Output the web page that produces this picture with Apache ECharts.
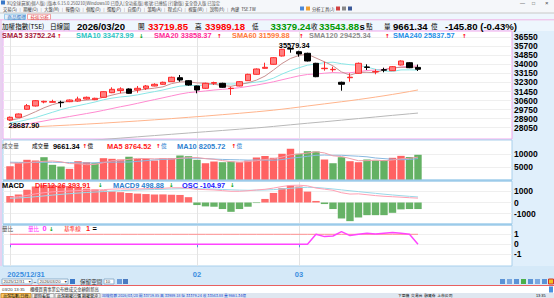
<!DOCTYPE html>
<html><head><meta charset="utf-8">
<script src="https://cdn.jsdelivr.net/npm/echarts@6.0.0/dist/echarts.min.js"></script>
<style>html,body{margin:0;padding:0;overflow:hidden;background:#fff}#c{width:554px;height:298px}</style>
</head><body><div id="c"></div><script>
const dates = ['2025/12/31','2026/01/02','2026/01/05','2026/01/06','2026/01/07','2026/01/08','2026/01/09','2026/01/12','2026/01/13','2026/01/14','2026/01/15','2026/01/16','2026/01/19','2026/01/20','2026/01/21','2026/01/22','2026/01/23','2026/01/26','2026/01/27','2026/01/28','2026/01/29','2026/01/30','2026/02/02','2026/02/03','2026/02/04','2026/02/05','2026/02/06','2026/02/09','2026/02/10','2026/02/11','2026/02/23','2026/02/24','2026/02/25','2026/02/26','2026/03/02','2026/03/03','2026/03/04','2026/03/05','2026/03/06','2026/03/09','2026/03/10','2026/03/11','2026/03/12','2026/03/13','2026/03/16','2026/03/17','2026/03/18','2026/03/19','2026/03/20'];
const open  = [28774,29028,29780,30090,30466,30440,30440,30494,30560,30748,30683,30908,31341,31540,31689,31595,31754,31971,32131,32375,32751,32469,31971,31754,32230,32225,31730,31971,32469,33071,33635,34011,34792,35500,35196,35046,34105,33600,33500,32319,32750,33165,33760,33300,33500,33410,33945,34162,33719.85];
const close = [29028,29338,30118,30588,30532,30500,30400,30654,30748,30908,30814,31435,31660,31700,31284,31754,31971,32131,32319,32789,32535,32065,31595,32225,32290,31848,31760,32375,33071,33569,33729,34632,35422,35440,34980,34322,32845,33640,33540,32131,32800,34105,33720,33340,33460,33786,34322,33689.68,33543.88];
const low   = [28687.90,29009,29733,30043,30344,30400,29968,30450,30494,30700,30640,30880,31300,31284,31240,31341,31595,31940,32100,32350,32375,32000,31284,31700,32065,31800,31125,31940,32440,33040,33600,33980,34750,35102,34726,34280,32800,33410,33315,31529,32375,33130,33475,33071,33259,33380,33900,33650,33379.24];
const high  = [29103,29385,30278,30654,30588,30680,30588,30700,30965,30980,30870,31480,31848,31848,31750,31971,32065,32225,32380,32850,33005,32530,32000,32280,32375,32280,31905,32430,33120,33620,34162,34680,35470,35579.34,35290,35100,34150,34256,33786,32380,33165,34180,34011,33541,33691,33850,34380,34220,33989.18];
const sma5   = [28750,28900,29200,29550,29921,30215,30428,30535,30567,30642,30705,30912,31113,31303,31379,31567,31674,31768,31892,32193,32349,32368,32261,32242,32142,32005,31944,32100,32269,32525,32901,33475,34085,34558,34841,34959,34602,34245,33865,33296,32991,33243,33259,33219,33485,33682,33726,33720,33752.24];
const sma10  = [28500,28620,28800,29000,29250,29500,29750,29950,30120,30287,30466,30676,30830,30941,31016,31136,31293,31441,31598,31786,31958,32021,32014,32067,32167,32177,32156,32180,32255,32333,32453,32709,33092,33414,33683,33930,34039,34165,34212,34068,33975,33923,33752,33542,33390,33337,33484,33489,33473.99];
const sma20  = [28150,28250,28380,28530,28680,28830,28960,29100,29240,29380,29520,29680,29850,30020,30170,30340,30520,30690,30860,31037,31212,31349,31422,31504,31592,31657,31725,31811,31927,32060,32206,32365,32553,32741,32925,33054,33098,33173,33234,33201,33214,33316,33422,33478,33537,33634,33762,33827,33858.37];
const sma60  = [28020,28060,28100,28140,28180,28220,28260,28300,28345,28390,28435,28480,28530,28580,28630,28680,28735,28790,28845,28905,28965,29025,29085,29145,29210,29275,29340,29405,29475,29545,29620,29700,29790,29885,29985,30090,30190,30290,30390,30490,30590,30700,30810,30930,31050,31180,31310,31450,31599.88];
const sma120 = [26290,26350,26410,26470,26530,26590,26650,26710,26770,26830,26890,26950,27010,27070,27130,27190,27250,27310,27370,27430,27490,27550,27610,27670,27730,27790,27850,27910,27970,28030,28095,28170,28245,28320,28395,28470,28540,28610,28685,28760,28835,28910,28985,29060,29135,29210,29280,29355,29425.34];
const volume = [5255,6570,7730,7460,8730,5800,5140,4250,7190,6800,6410,8350,8110,7840,8890,8110,8110,7460,8350,8350,9390,9120,7730,6410,7070,6800,7070,6800,7460,8620,9200,8500,10050,11980,10050,11050,10940,7840,6410,8730,7190,6800,7840,7460,7600,8500,9250,8810,9661.34];
const volUp  = [1,1,1,1,0,0,0,1,1,1,0,1,1,1,0,1,1,1,1,1,0,0,0,1,1,0,0,1,1,1,1,1,1,1,0,0,0,1,0,0,1,1,0,0,0,1,1,0,0];
const volMa5  = [6500,6400,6600,6900,7149,7258,6972,6276,6222,5836,5958,6600,7372,7502,7920,8260,8212,8082,8184,8076,8332,8534,8588,8200,7944,7426,7016,6830,7040,7350,7830,8116,8766,9670,9956,10326,10814,10372,9258,8994,8222,7394,7394,7604,7378,7640,8130,8324,8764.52];
const volMa10 = [6800,6750,6700,6700,6750,6800,6750,6650,6550,6493,6608,6786,6824,6862,6878,7109,7406,7727,7843,7998,8296,8373,8335,8192,8010,7879,7775,7709,7620,7647,7628,7566,7798,8355,8653,9078,9465,9569,9464,9475,9274,9104,8883,8431,8186,7931,7762,7859,8205.72];
const osc  = [590,730,1150,1440,1560,1570,1540,1480,1380,1250,1180,1090,1000,930,860,800,760,720,730,700,680,480,-230,-350,-380,-590,-840,-590,-380,-50,320,860,1290,1530,1440,980,140,-140,-590,-1440,-1680,-1350,-1140,-1140,-1140,-930,-620,-590,-590];
const dif  = [450,520,640,780,880,960,1000,1040,1070,1100,1110,1160,1200,1230,1210,1220,1240,1260,1280,1330,1330,1280,1190,1160,1130,1070,1010,1010,1060,1130,1190,1300,1440,1540,1560,1500,1300,1200,1100,880,760,780,700,620,560,520,480,430,393.91];
const macd = [380,410,456,521,593,666,733,794,849,899,941,985,1028,1068,1096,1121,1145,1168,1190,1218,1240,1248,1236,1221,1203,1176,1143,1116,1105,1110,1126,1161,1217,1282,1337,1370,1356,1290,1220,1140,1055,980,900,825,750,680,615,555,498.88];
const volRatio = [0,0,0,0,0,0,0,0,0,0,0,0,0,0,0,0,0,0,0,0,0,0,0,0,0,0,0,0,0,0,0,0,0,0,0,0,1.0,0.77,0.83,1.27,0.87,1.0,1.1,1.03,1.1,1.17,1.1,1.0,0];
const baseLine = dates.map(() => 1);
const priceTicks = [28050,28900,29750,30600,31450,32300,33150,34000,34850,35700,36550];
const volTicks = [5000,10000];
const macdTicks = [-1000,0,1000];
const ratioTicks = [-1,0,1];
const xTickIdx = [0,22,34];
const xTickText = ['2025/12/31','02','03'];

const F = '"Liberation Sans", Arial, sans-serif';
const CJK = '"Noto Sans CJK TC", sans-serif';
const XMIN = -0.82, XMAX = 59.06;

function xAx(g, labels) {
  return {type:'value', gridIndex:g, min:XMIN, max:XMAX,
    axisLine:{show:false},
    axisTick:{show:labels, customValues:xTickIdx, length:3, lineStyle:{color:'#5a9ad8'}},
    axisLabel:{show:labels, customValues:xTickIdx, margin:4, color:'#3a8de0', fontFamily:F, fontWeight:'bold', fontSize:7.5,
      formatter:(v)=>{const k=xTickIdx.indexOf(Math.round(v)); return k===0?'{f|'+xTickText[k]+'}':(xTickText[k]||'');},
      rich:{f:{padding:[0,0,0,32], color:'#3a8de0', fontFamily:F, fontWeight:'bold', fontSize:7.5}}},
    splitLine:{show:true, lineStyle:{color:'#e4e4e4', width:1}}};
}
function yAx(g, min, max, ticks) {
  return {type:'value', gridIndex:g, position:'right', min, max,
    axisLine:{show:false}, axisTick:{show:false, customValues:ticks},
    axisLabel:{customValues:ticks, margin:2, color:'#000', fontFamily:F, fontWeight:'bold', fontSize:8.5, align:'left',
      formatter:(v)=>String(v)},
    splitLine:{show:true, lineStyle:{color:'#efefef', width:1}}};
}
function ln(g, arr, color, w) {
  return {type:'line', xAxisIndex:g, yAxisIndex:g, data:arr.map((v,i)=>[i,v]), showSymbol:false, symbol:'none',
    lineStyle:{color, width:w||1}, silent:true, clip:true, z:2};
}

const G = [];
function rect(x,y,w,h,fill,stroke,z){G.push({type:'rect',silent:true,z:(z==null?-10:z),shape:{x,y,width:w,height:h},style:stroke?{fill:fill||'none',stroke,lineWidth:1}:{fill}});}
function hl(x1,y1,x2,y2,stroke,w,z){G.push({type:'line',silent:true,z:(z==null?50:z),shape:{x1,y1,x2,y2},style:{stroke,lineWidth:w||1}});}
function tx(x,y,text,fill,font,align){G.push({type:'text',silent:true,z:100,x,y,style:{text,fill,font,textAlign:align||'left',textVerticalAlign:'middle',align:align||'left',verticalAlign:'middle'}});}

// backgrounds
rect(0,0,554,13,'#f5f7fa');
rect(0,13,554,18,'#eef6fd');
rect(0,31,554,235,'#e0effb');
rect(0,266,554,19.5,'#d5e9f8');
rect(0,285.5,554,7.5,'#ffffff');
rect(0,293,554,5,'#dfe7f0');
hl(0,13,554,13,'#c8c8c8',1,-5);
hl(0,19.8,554,19.8,'#f0b4e4',1,-5);
hl(0,285.5,554,285.5,'#e86060',1,-5);
hl(1,20,1,266,'#f0b4e4',1,-5);
hl(3,180.5,512,180.5,'#9ccbea',2,60);
hl(3,224.5,512,224.5,'#9ccbea',2,60);

// window chrome
const tiny = '4.3px ' + CJK;
rect(1,0.5,4,4,'#3a78c8',null,-5);
tx(7,2.6,'XQ全球贏家(個人版) [版本 6.15.0.250210]Windows10 已登入[全功能版] 帳號:已連結 [行動版] 安全登入版 已設定','#555',tiny);
tx(520,2.6,'—','#444','5px '+F); tx(532,2.6,'□','#444','5px '+F); tx(545,2.6,'×','#444','6px '+F);
tx(3,8.6,'交易(S) │ 期權(O) │ 大盤(M) │ 報價(Q) │ 個股(D) │ 選股(P) │ 自選(F) │ 策略(A) │ 程式(C) │ 視窗(W) │ 說明(H) │ 內建  TSE.TW','#333',tiny);
rect(300,6.5,4,4,'#4a88d8',null,-5); rect(306,6.5,4,4,'#f0a030',null,-5);
tx(312,8.6,'分析工具(J)','#333',tiny);
rect(336,6.5,4,4,'#d04040',null,-5); rect(342,6.5,4,4,'#888',null,-5); rect(348,6.5,4,4,'#3b5998',null,-5);
// tabs
rect(4.5,14.2,21,5.2,'#e4f1fb','#9ccbea',-5);
tx(7.3,16.9,'商品選擇','#2a6fc0','4.6px '+CJK);
rect(27.5,14.2,23,5.2,'#ffffff','#f0a0a0',-5);
tx(30.5,16.9,'技術分析','#e03030','4.6px '+CJK);

// header line
const HC = '6.6px ' + CJK, HB = 'bold 9.6px ' + F;
tx(2,26,'加權指數(TSE)','#000',HC);
tx(50,26,'日線圖','#000',HC);
tx(77,26,'2026/03/20','#000',HB);
tx(138,26,'開','#000',HC);
tx(148,26,'33719.85','#ff0000',HB);
tx(195,26,'高','#000',HC);
tx(205,26,'33989.18','#ff0000',HB);
tx(252,26,'低','#000',HC);
tx(270.5,26,'33379.24','#009900',HB);
tx(311,26,'收','#000',HC);
tx(319,26,'33543.88','#009900',HB);
tx(359.5,26,'s','#000',HB);
tx(366,26,'點','#000',HC);
tx(384,26,'量','#000',HC);
tx(393,26,'9661.34','#000',HB);
tx(431,26,'億','#000',HC);
tx(445,26,'-145.80 (-0.43%)','#000',HB);

// pane legends
const LB = 'bold 7.4px ' + F, AR = 'bold 5.5px "DejaVu Sans"', LC = '5.6px ' + CJK;
const UP='↑', DN='↓', RED='#ff0000', GRN='#00a000';
tx(2,35.5,'SMA5 33752.24','#a8203c',LB); tx(57,35.5,UP,RED,AR);
tx(76,35.5,'SMA10 33473.99','#2cc4c4',LB); tx(139,35.5,DN,GRN,AR);
tx(154,35.5,'SMA20 33858.37','#ff2a98',LB); tx(217,35.5,UP,RED,AR);
tx(232,35.5,'SMA60 31599.88','#ff7a3a',LB); tx(299,35.5,UP,RED,AR);
tx(309,35.5,'SMA120 29425.34','#8c8c8c',LB); tx(385,35.5,UP,RED,AR);
tx(393,35.5,'SMA240 25837.57','#1e90e8',LB); tx(462,35.5,UP,RED,AR);

tx(2,146,'成交量','#555',LC);
tx(32,146,'成交量','#000',LC);
tx(53,146,'9661.34','#000',LB); tx(82.5,146,UP,RED,AR); tx(87.5,146,'億','#000',LC);
tx(107,146,'MA5 8764.52','#ff2020',LB); tx(156,146,UP,RED,AR); tx(161,146,'億','#2d7fd0',LC);
tx(177,146,'MA10 8205.72','#2d7fd0',LB); tx(231.5,146,UP,RED,AR); tx(236.5,146,'億','#2d7fd0',LC);

tx(2,185,'MACD','#000',LB);
tx(35,185,'DIF12-26 393.91','#ff2020',LB); tx(98,185,DN,GRN,AR);
tx(113,185,'MACD9 498.88','#2d7fd0',LB); tx(169,185,DN,GRN,AR);
tx(182,185,'OSC -104.97','#1a1aff',LB); tx(230,185,DN,GRN,AR);

tx(2,228.8,'量比','#555',LC);
tx(28,228.8,'量比','#ff33ff',LC); tx(42.5,228.8,'0','#ff33ff',LB); tx(49,228.8,DN,GRN,AR);
tx(64,228.8,'基準線','#ff2020',LC); tx(86,228.8,'1','#ff2020',LB); tx(92.5,228.8,'=','#000',LB);

// control bar
rect(2,279,30,5,'#ffffff','#8fb0cc',-5); tx(3.5,281.6,'2025/12/31','#333','4.2px '+F); tx(28,281.6,'▼','#333','3.5px '+F);
tx(33.5,281.6,'~','#333','5px '+F);
rect(38,279,30,5,'#ffffff','#8fb0cc',-5); tx(39.5,281.6,'2026/03/20','#333','4.2px '+F); tx(64,281.6,'▼','#333','3.5px '+F);
rect(70,279,5,5,'#3a78c8',null,-5);
tx(80,281.6,'保留空間','#333','5.6px '+CJK);
rect(104,279,10,5,'#ffffff','#8fb0cc',-5); tx(105.5,281.6,'10','#333','4.2px '+F);
rect(117,279,5,5,'#6a9ad8',null,-5); rect(123,279,5,5,'#4a7ac0',null,-5);
[500,507,514,521,528,535,542].forEach((x,i)=>rect(x,279,5,5,['#5b93d6','#7aa8e0','#5b93d6','#4bb04b','#5b93d6','#7aa8e0','#5b93d6'][i],null,-5));
rect(548.5,279,5,5,'#f0c020','#d03030',-5);
// status bar
tx(2,289.3,'03/20 13:35','#333','4.3px '+F);
tx(30,289.3,'櫃檯買賣事業公布總成交金額創新高','#333',tiny);
rect(549,286.5,4,6,'#4a90e0',null,-5);
// taskbar
rect(1,293.5,30,4.5,'#ffcc66','#d09030',-5); tx(3,295.8,'台灣指數(日線)','#000','4px '+CJK);
rect(32,293.5,22,4.5,'#f4f4f4','#aaa',-5); tx(34,295.8,'即時看盤','#000','4px '+CJK);
rect(55,293.5,24,4.5,'#f4f4f4','#aaa',-5); tx(57,295.8,'台灣期權行情','#000','4px '+CJK);
rect(80,293.5,20,4.5,'#f4f4f4','#aaa',-5); tx(82,295.8,'期權當沖','#000','4px '+CJK);
tx(102,295.8,'加權指數 2026/03/20 開 33719.85 高 33989.18 低 33379.24 收 33543.88 量 9661.34億','#1a4fd0','3.8px '+CJK);
tx(398,295.8,'下單機  交易台  融資券  上市公司','#000','3.8px '+CJK);
tx(536,295.8,'13:35','#000','3.8px '+F);

const hiIdx = high.indexOf(Math.max(...high));
const loIdx = low.indexOf(Math.min(...low));

const option = {
  animation:false,
  backgroundColor:'#ffffff',
  textStyle:{fontFamily:F},
  grid:[
    {left:3, right:42, top:31, height:108, show:true, backgroundColor:'#fff', borderColor:'#f0a6ec', borderWidth:1, outerBoundsMode:'none'},
    {left:3, right:42, top:140, height:40, show:true, backgroundColor:'#fff', borderColor:'#a9d0ec', borderWidth:1, outerBoundsMode:'none'},
    {left:3, right:42, top:181, height:43, show:true, backgroundColor:'#fff', borderColor:'#a9d0ec', borderWidth:1, outerBoundsMode:'none'},
    {left:3, right:42, top:225, height:41, show:true, backgroundColor:'#fff', borderColor:'#a9d0ec', borderWidth:1, outerBoundsMode:'none'}
  ],
  xAxis:[xAx(0,false), xAx(1,false), xAx(2,false), xAx(3,true)],
  yAxis:[yAx(0,26987,37142,priceTicks), yAx(1,-38,15346,volTicks), yAx(2,-1937,1937,macdTicks), yAx(3,-2.17,1.93,ratioTicks)],
  series:[
    ln(0, sma120, '#b8b8b8'),
    ln(0, sma60, '#ffb48c'),
    ln(0, sma20, '#ff8ad0'),
    ln(0, sma10, '#8ae6e6'),
    ln(0, sma5, '#c89090'),
    {type:'candlestick', xAxisIndex:0, yAxisIndex:0, barWidth:6, z:3,
      data: dates.map((d,i)=>[i, open[i], close[i], low[i], high[i]]),
      itemStyle:{color:'#ff7f7f', color0:'#000000', borderColor:'#ff2a2a', borderColor0:'#000000', borderWidth:1},
      markPoint:{symbol:'circle', symbolSize:1, itemStyle:{color:'rgba(0,0,0,0)'}, silent:true,
        label:{show:true, position:'inside', color:'#000', fontFamily:F, fontWeight:'bold', fontSize:7.4},
        data:[
          {coord:[hiIdx, high[hiIdx]], value:high[hiIdx], label:{formatter:high[hiIdx].toFixed(2), offset:[3.7,-2.6]}},
          {coord:[loIdx, low[loIdx]], value:low[loIdx], label:{formatter:low[loIdx].toFixed(2), offset:[14,4.2]}}
        ]}},
    {type:'bar', xAxisIndex:1, yAxisIndex:1, barWidth:7.4, z:2,
      data: volume.map((v,i)=>({value:[i,v], itemStyle:{color: volUp[i] ? '#ff6262' : '#63b163'}}))},
    ln(1, volMa10, '#88b8e0'),
    ln(1, volMa5, '#f0a0aa'),
    {type:'bar', xAxisIndex:2, yAxisIndex:2, barWidth:7.4, z:2,
      data: osc.map((v,i)=>({value:[i,v], itemStyle:{color: v>=0 ? '#ff6b6b' : '#66b266'}}))},
    ln(2, macd, '#9ad8e8'),
    ln(2, dif, '#ffa0b4'),
    ln(3, baseLine, '#ff9090'),
    ln(3, volRatio, '#ff44ff', 1.5)
  ],
  graphic:{elements:G}
};
const chart = echarts.init(document.getElementById('c'), null, {renderer:'svg'});
chart.setOption(option);
</script></body></html>
